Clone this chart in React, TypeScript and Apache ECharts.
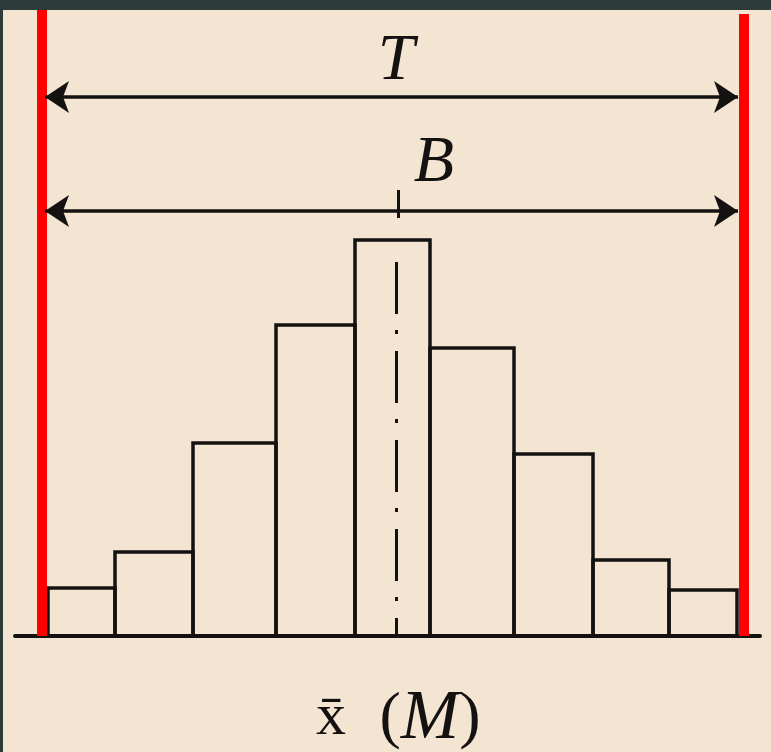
import React, { useEffect, useRef } from "react";
import * as echarts from "echarts";

// Histogram bin edges (x units) and bar heights (frequency units)
const binEdges = [3.3, 10.0, 17.8, 26.1, 34.0, 41.5, 49.9, 57.8, 65.4, 72.2];
const binHeights = [4.8, 8.4, 19.3, 31.1, 39.6, 28.8, 18.2, 7.6, 4.6];
// Tolerance limits (red lines)
const toleranceLimits = [2.7, 72.85];
const toleranceTops = [62.6, 62.2];
// Dimension arrows: T (tolerance) and B (spread)
const arrowT = { from: 3.0, to: 72.3, level: 53.9 };
const arrowB = { from: 3.0, to: 72.3, level: 42.5 };
// Centre (mean) position
const centreX = 38.1;
const centreTop = 37.4;
const tickX = 38.3;
const tickRange = [41.8, 44.6];
const X_MIN = 0;
const X_MAX = 74.5;
const Y_MAX = 62.6;

const BG = "#f4e4d2";
const INK = "#141210";
const SERIF = "'Liberation Serif', 'DejaVu Serif', serif";

export default function App() {
  const ref = useRef<HTMLDivElement>(null);
  useEffect(() => {
    if (!ref.current) return;
    const chart = echarts.init(ref.current, null, { renderer: "svg" });
    const barData = binHeights.map((h, i) => [binEdges[i], binEdges[i + 1], h]);
    chart.setOption({
      animation: false,
      backgroundColor: BG,
      grid: { left: 15, right: 11, top: 10, bottom: 116 },
      xAxis: {
        type: "value",
        min: X_MIN,
        max: X_MAX,
        axisLine: { show: true, onZero: false, lineStyle: { color: INK, width: 4 } },
        axisTick: { show: false },
        axisLabel: { show: false },
        splitLine: { show: false },
      },
      yAxis: {
        type: "value",
        min: 0,
        max: Y_MAX,
        show: false,
        splitLine: { show: false },
      },
      graphic: [
        { type: "rect", shape: { x: 0, y: 0, width: 771, height: 10 }, style: { fill: "#2c3a38" }, z: 100 },
        { type: "rect", shape: { x: 0, y: 0, width: 3, height: 752 }, style: { fill: "#2c3a38" }, z: 100 },
        {
          type: "text",
          x: 396,
          y: 56,
          style: {
            text: "T",
            font: "italic 66px " + SERIF,
            fill: INK,
            align: "center",
            verticalAlign: "middle",
          },
        },
        {
          type: "text",
          x: 434,
          y: 158,
          style: {
            text: "B",
            font: "italic 66px " + SERIF,
            fill: INK,
            align: "center",
            verticalAlign: "middle",
          },
        },
        {
          type: "text",
          x: 331,
          y: 714,
          style: {
            text: "x\u0304",
            font: "60px " + SERIF,
            fill: INK,
            align: "center",
            verticalAlign: "middle",
          },
        },
        {
          type: "text",
          x: 430,
          y: 714,
          style: {
            text: "{p|(}{m|M}{p|)}",
            fill: INK,
            align: "center",
            verticalAlign: "middle",
            rich: {
              p: { font: "64px " + SERIF, fill: INK },
              m: { font: "italic 70px " + SERIF, fill: INK },
            },
          },
        },
      ],
      series: [
        {
          type: "custom",
          data: barData,
          renderItem: (params: any, api: any) => {
            const p0 = api.coord([api.value(0), api.value(2)]);
            const p1 = api.coord([api.value(1), 0]);
            return {
              type: "rect",
              shape: { x: p0[0], y: p0[1], width: p1[0] - p0[0], height: p1[1] - p0[1] },
              style: { fill: "none", stroke: INK, lineWidth: 3.5 },
            };
          },
          z: 2,
        },
        {
          type: "line",
          data: [],
          markLine: {
            silent: true,
            symbol: ["none", "none"],
            label: { show: false },
            lineStyle: { color: "#ff0000", width: 10, type: "solid" },
            data: toleranceLimits.map((x, i) => [
              { coord: [x, 0] },
              { coord: [x, toleranceTops[i]] },
            ]),
          },
          z: 5,
        },
        {
          type: "line",
          data: [],
          markLine: {
            silent: true,
            symbol: ["arrow", "arrow"],
            symbolSize: 24,
            label: { show: false },
            lineStyle: { color: INK, width: 3.5, type: "solid" },
            data: [
              [{ coord: [arrowT.from, arrowT.level] }, { coord: [arrowT.to, arrowT.level] }],
              [{ coord: [arrowB.from, arrowB.level] }, { coord: [arrowB.to, arrowB.level] }],
            ],
          },
          z: 4,
        },
        {
          type: "line",
          data: [],
          markLine: {
            silent: true,
            symbol: ["none", "none"],
            label: { show: false },
            data: [
              [
                { coord: [centreX, centreTop], lineStyle: { color: INK, width: 3, type: [52, 16, 4, 17] } },
                { coord: [centreX, 0] },
              ],
              [
                { coord: [tickX, tickRange[0]], lineStyle: { color: INK, width: 3, type: "solid" } },
                { coord: [tickX, tickRange[1]] },
              ],
            ],
          },
          z: 3,
        },
      ],
    });
    return () => chart.dispose();
  }, []);
  return (
    <div
      ref={ref}
      style={{ position: "absolute", left: 0, top: 0, width: 771, height: 752 }}
    />
  );
}
